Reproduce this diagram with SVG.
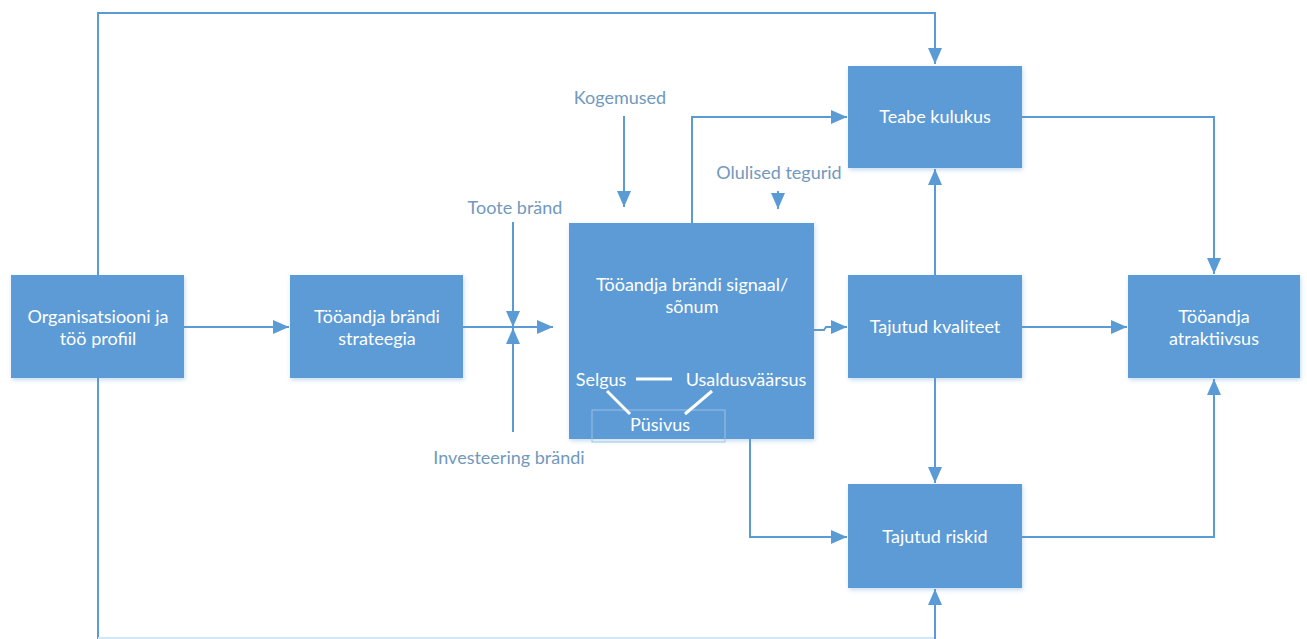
<svg xmlns="http://www.w3.org/2000/svg" width="1307" height="639" viewBox="0 0 1307 639">
  <defs>
    <marker id="arrow" viewBox="0 0 16 14" refX="16" refY="7" markerWidth="16" markerHeight="14" markerUnits="userSpaceOnUse" orient="auto">
      <path d="M0,0 L16,7 L0,14 Z" fill="#5B9BD5"/>
    </marker>
    <filter id="shadow" x="-10%" y="-10%" width="125%" height="125%">
      <feDropShadow dx="1" dy="2" stdDeviation="2" flood-color="#5B9BD5" flood-opacity="0.35"/>
    </filter>
    <style>
      .box { fill: #5B9BD5; filter: url(#shadow); }
      .wire { fill: none; stroke: #5B9BD5; stroke-width: 2; }
      .faint { stroke: #d2e8f8; }
      .arr { marker-end: url(#arrow); }
      .lbl { font-family: Lato, "Liberation Sans", sans-serif; font-size: 18px; fill: #ffffff; text-anchor: middle; }
      .ext { font-family: Lato, "Liberation Sans", sans-serif; font-size: 18px; fill: #7199bd; text-anchor: middle; }
      .link { stroke: #ffffff; stroke-width: 3; fill: none; }
    </style>
  </defs>
  <rect width="1307" height="639" fill="#ffffff"/>

  <!-- connectors -->
  <g id="connectors">
    <path class="wire arr" d="M98,276 L98,13 L935,13 L935,64"/>
    <path class="wire" d="M98,378 L98,639"/>
    <path class="wire faint" d="M98,638 L935,638"/>
    <path class="wire arr" d="M935,639 L935,589"/>
    <path class="wire arr" d="M184,327 L289,327"/>
    <path class="wire arr" d="M463,327 L553,327"/>
    <path class="wire arr" d="M513,222 L513,327"/>
    <path class="wire arr" d="M513,432 L513,328"/>
    <path class="wire arr" d="M624,116 L624,207"/>
    <path class="wire arr" d="M778,191 L778,209"/>
    <path class="wire arr" d="M692,223 L692,117 L847,117"/>
    <path class="wire arr" d="M1022,117 L1214,117 L1214,274"/>
    <path class="wire arr" d="M814,330 L824,330 L826,327 L847,327"/>
    <path class="wire arr" d="M935,275 L935,169"/>
    <path class="wire arr" d="M935,378 L935,483"/>
    <path class="wire arr" d="M1022,327 L1127,327"/>
    <path class="wire arr" d="M750,439 L750,537 L847,537"/>
    <path class="wire arr" d="M1022,537 L1214,537 L1214,379"/>
  </g>

  <!-- external influence labels -->
  <g id="labels">
    <text class="ext" x="620" y="104">Kogemused</text>
    <text class="ext" x="779" y="179">Olulised tegurid</text>
    <text class="ext" x="515" y="214">Toote bränd</text>
    <text class="ext" x="509" y="464">Investeering brändi</text>
  </g>

  <g id="node-profile">
    <rect class="box" x="11" y="275" width="173" height="103"/>
    <text class="lbl" x="98" y="323">Organisatsiooni ja</text>
    <text class="lbl" x="98" y="345">töö profiil</text>
  </g>

  <g id="node-strategy">
    <rect class="box" x="290" y="275" width="173" height="103"/>
    <text class="lbl" x="377" y="323">Tööandja brändi</text>
    <text class="lbl" x="377" y="345">strateegia</text>
  </g>

  <g id="node-signal">
    <rect class="box" x="569" y="223" width="245" height="216"/>
    <text class="lbl" x="692" y="291">Tööandja brändi signaal/</text>
    <text class="lbl" x="692" y="313">sõnum</text>
    <rect x="592" y="410" width="133" height="32" fill="none" stroke="#9cc2e6" stroke-width="1"/>
    <text class="lbl" x="601" y="386">Selgus</text>
    <text class="lbl" x="746" y="386">Usaldusväärsus</text>
    <text class="lbl" x="660" y="431">Püsivus</text>
    <line class="link" x1="636" y1="379" x2="672" y2="379"/>
    <line class="link" x1="607" y1="391" x2="630" y2="414"/>
    <line class="link" x1="712" y1="391" x2="685" y2="414"/>
  </g>

  <g id="node-info-cost">
    <rect class="box" x="848" y="66" width="174" height="102"/>
    <text class="lbl" x="935" y="123">Teabe kulukus</text>
  </g>

  <g id="node-quality">
    <rect class="box" x="848" y="275" width="174" height="103"/>
    <text class="lbl" x="935" y="333">Tajutud kvaliteet</text>
  </g>

  <g id="node-risks">
    <rect class="box" x="848" y="484" width="174" height="104"/>
    <text class="lbl" x="935" y="543">Tajutud riskid</text>
  </g>

  <g id="node-attractiveness">
    <rect class="box" x="1128" y="275" width="172" height="103"/>
    <text class="lbl" x="1214" y="323">Tööandja</text>
    <text class="lbl" x="1214" y="345">atraktiivsus</text>
  </g>
</svg>
